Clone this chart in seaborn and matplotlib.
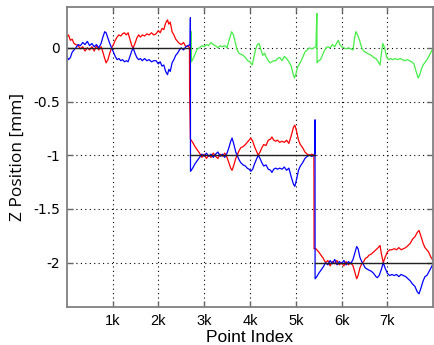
import matplotlib
matplotlib.use("Agg")
import matplotlib.pyplot as plt
import seaborn as sns

# step reference (target Z per section)
ref_start = [0, 2700, 5420]
ref_end = [2700, 5420, 8000]
ref_level = [0, -1, -2]

# red trace
red_idx = [0, 40, 80, 120, 160, 200, 250, 300, 350, 400, 450, 500, 550, 600, 650, 700, 750, 790, 830, 860,
           900, 940, 980, 1020, 1060, 1100, 1140, 1180, 1220, 1260, 1300, 1340, 1380, 1420, 1450, 1490, 1530,
           1570, 1610, 1650, 1700, 1750, 1800, 1850, 1900, 1950, 2000, 2040, 2080, 2120, 2160, 2200, 2230,
           2260, 2300, 2340, 2380, 2420, 2460, 2500, 2550, 2600, 2650, 2680, 2682, 2700,
           2750, 2800, 2850, 2900, 2950, 3000, 3050, 3100, 3150, 3200, 3250, 3300, 3350, 3400, 3450, 3500,
           3540, 3580, 3610, 3650, 3690, 3720, 3760, 3800, 3850, 3900, 3940, 3980, 4020, 4060, 4100, 4140,
           4180, 4220, 4260, 4300, 4350, 4400, 4450, 4480, 4520, 4560, 4600, 4650, 4700, 4750, 4800, 4850,
           4900, 4950, 4980, 5020, 5060, 5100, 5150, 5200, 5250, 5300, 5350, 5395, 5398, 5400, 5440,
           5500, 5550, 5600, 5650, 5700, 5750, 5800, 5850, 5900, 5950, 6000, 6050, 6100, 6150, 6200, 6250,
           6290, 6330, 6360, 6400, 6440, 6480, 6520, 6560, 6600, 6650, 6700, 6750, 6800, 6840, 6870, 6910,
           6950, 7000, 7050, 7100, 7150, 7200, 7250, 7300, 7350, 7400, 7450, 7500, 7550, 7600, 7650, 7690,
           7730, 7780, 7820, 7860, 7900, 7950, 8000]
red_z = [0.10, 0.12, 0.07, 0.08, 0.04, 0.03, 0.02, -0.01, 0.01, -0.03, 0.00, -0.02, 0.01, -0.03, 0.02, -0.02,
         0.01, -0.04, -0.10, -0.14, -0.11, -0.05, 0.00, 0.03, 0.07, 0.10, 0.12, 0.11, 0.13, 0.14, 0.12, 0.14,
         0.08, 0.02, 0.00, 0.04, 0.09, 0.12, 0.10, 0.12, 0.11, 0.13, 0.12, 0.14, 0.12, 0.13, 0.16, 0.14, 0.18,
         0.17, 0.23, 0.26, 0.22, 0.24, 0.15, 0.12, 0.08, 0.06, 0.04, 0.03, 0.05, 0.01, 0.02, 0.00, -0.38, -0.85,
         -0.88, -0.92, -0.95, -0.98, -1.02, -0.99, -1.03, -1.00, -1.02, -0.98, -1.01, -1.03, -0.99, -1.01,
         -0.98, -1.02, -1.07, -1.12, -1.14, -1.09, -1.03, -1.00, -0.96, -0.93, -0.92, -0.90, -0.88, -0.86,
         -0.84, -0.87, -0.92, -0.96, -1.00, -0.97, -0.93, -0.90, -0.91, -0.86, -0.85, -0.83, -0.86, -0.87,
         -0.86, -0.88, -0.87, -0.88, -0.86, -0.89, -0.82, -0.74, -0.72, -0.78, -0.86, -0.90, -0.93, -0.97,
         -0.99, -1.00, -0.99, -1.00, -1.25, -1.87, -1.87,
         -1.90, -1.93, -1.96, -2.00, -1.98, -2.03, -1.99, -2.01, -1.98, -2.02, -2.00, -2.03, -1.99, -2.02,
         -2.00, -2.03, -2.09, -2.15, -2.12, -2.05, -2.01, -1.99, -1.96, -1.95, -1.93, -1.92, -1.90, -1.88,
         -1.86, -1.84, -1.92, -2.00, -1.95, -1.90, -1.88, -1.88, -1.87, -1.88, -1.86, -1.88, -1.87, -1.86,
         -1.84, -1.82, -1.78, -1.76, -1.72, -1.70, -1.75, -1.82, -1.86, -1.88, -1.90, -1.95, -1.98]

# blue trace
blue_idx = [0, 40, 80, 120, 160, 200, 250, 300, 350, 400, 450, 500, 550, 600, 650, 700, 750, 790, 830, 860,
            900, 940, 980, 1020, 1060, 1100, 1140, 1180, 1220, 1260, 1300, 1340, 1380, 1420, 1450, 1490, 1530,
            1570, 1610, 1650, 1700, 1750, 1800, 1850, 1900, 1950, 2000, 2040, 2080, 2120, 2160, 2200, 2230,
            2260, 2300, 2340, 2380, 2420, 2460, 2500, 2550, 2600, 2650, 2695, 2700, 2702,
            2750, 2800, 2850, 2900, 2950, 3000, 3050, 3100, 3150, 3200, 3250, 3300, 3350, 3400, 3450, 3500,
            3540, 3580, 3610, 3650, 3690, 3720, 3760, 3800, 3850, 3900, 3940, 3980, 4020, 4060, 4100, 4140,
            4180, 4220, 4260, 4300, 4350, 4400, 4450, 4480, 4520, 4560, 4600, 4650, 4700, 4750, 4800, 4850,
            4900, 4950, 4980, 5020, 5060, 5100, 5150, 5200, 5250, 5300, 5350, 5400, 5418, 5420, 5422,
            5460, 5500, 5550, 5600, 5650, 5700, 5750, 5800, 5850, 5900, 5950, 6000, 6050, 6100, 6150, 6200, 6250,
            6290, 6330, 6360, 6400, 6440, 6480, 6520, 6560, 6600, 6650, 6700, 6750, 6780, 6820, 6870, 6910,
            6950, 7000, 7050, 7100, 7150, 7200, 7250, 7300, 7350, 7400, 7450, 7500, 7550, 7600, 7650, 7690,
            7730, 7780, 7820, 7860, 7900, 7950, 8000]
blue_z = [-0.08, -0.11, -0.09, -0.04, -0.02, 0.00, 0.03, 0.02, 0.05, 0.03, 0.06, 0.02, 0.04, 0.01, 0.03, 0.00,
          0.04, 0.10, 0.15, 0.14, 0.09, 0.04, 0.00, -0.04, -0.08, -0.11, -0.10, -0.12, -0.11, -0.13, -0.12,
          -0.13, -0.08, -0.03, 0.00, -0.05, -0.09, -0.11, -0.10, -0.12, -0.10, -0.12, -0.11, -0.13, -0.12,
          -0.12, -0.15, -0.13, -0.17, -0.16, -0.22, -0.25, -0.20, -0.22, -0.14, -0.11, -0.07, -0.05, -0.02,
          0.00, -0.02, 0.01, 0.02, 0.03, 0.28, -1.15,
          -1.12, -1.08, -1.05, -1.02, -0.99, -1.01, -0.98, -1.01, -0.99, -1.02, -0.99, -0.97, -1.01, -0.99,
          -1.02, -0.98, -0.93, -0.87, -0.84, -0.90, -0.97, -1.00, -1.04, -1.07, -1.09, -1.10, -1.12, -1.13,
          -1.15, -1.13, -1.08, -1.04, -1.00, -1.03, -1.07, -1.10, -1.09, -1.13, -1.14, -1.16, -1.13, -1.12,
          -1.13, -1.12, -1.13, -1.11, -1.14, -1.12, -1.20, -1.27, -1.29, -1.22, -1.14, -1.10, -1.07, -1.03,
          -1.01, -1.00, -1.01, -1.00, -0.98, -0.67, -2.15,
          -2.13, -2.10, -2.07, -2.04, -2.00, -2.02, -1.98, -2.01, -1.97, -2.02, -1.99, -2.01, -1.98, -2.02,
          -1.99, -2.01, -1.97, -1.91, -1.85, -1.87, -1.95, -1.99, -2.02, -2.05, -2.06, -2.07, -2.08, -2.10,
          -2.13, -2.14, -2.12, -2.06, -2.00, -2.05, -2.10, -2.12, -2.11, -2.12, -2.11, -2.13, -2.11, -2.12,
          -2.13, -2.15, -2.17, -2.20, -2.22, -2.27, -2.29, -2.24, -2.17, -2.13, -2.12, -2.09, -2.05, -2.01]

# green trace
green_idx = [2720, 2722, 2760, 2800, 2850, 2900, 2950, 3000, 3050, 3100, 3150, 3200, 3250, 3300, 3350, 3400,
             3450, 3500, 3550, 3600, 3640, 3680, 3720, 3760, 3800, 3850, 3900, 3950, 4000, 4050, 4080, 4120,
             4160, 4200, 4240, 4280, 4320, 4360, 4400, 4440, 4480, 4520, 4560, 4600, 4650, 4700, 4750, 4800,
             4850, 4900, 4940, 4970, 5000, 5040, 5080, 5120, 5160, 5200, 5250, 5300, 5350, 5400, 5440, 5460,
             5465, 5500, 5540, 5580, 5620, 5660, 5700, 5750, 5800, 5850, 5900, 5930, 5960, 6000, 6050, 6100,
             6150, 6200, 6250, 6280, 6310, 6350, 6400, 6440, 6480, 6520, 6560, 6600, 6650, 6700, 6750, 6800,
             6840, 6870, 6900, 6940, 6980, 7020, 7070, 7120, 7170, 7220, 7280, 7330, 7380, 7430, 7480, 7530,
             7580, 7620, 7670, 7700, 7740, 7780, 7830, 7880, 7940, 8000]
green_z = [0.15, -0.13, -0.10, -0.06, -0.01, 0.00, 0.02, 0.01, 0.03, 0.02, 0.05, 0.03, 0.02, 0.00, 0.02, 0.01,
           0.02, 0.00, 0.08, 0.15, 0.12, 0.05, -0.02, -0.05, -0.06, -0.07, -0.09, -0.12, -0.13, -0.16, -0.10,
           -0.02, 0.03, 0.04, -0.02, -0.07, -0.05, -0.09, -0.12, -0.14, -0.13, -0.12, -0.12, -0.10, -0.09,
           -0.12, -0.08, -0.10, -0.13, -0.17, -0.24, -0.28, -0.25, -0.18, -0.15, -0.12, -0.08, -0.04, -0.02,
           0.00, -0.01, 0.00, 0.01, 0.32, -0.14, -0.12, -0.11, -0.07, -0.03, 0.00, 0.01, 0.00, 0.03, 0.01,
           0.05, 0.07, 0.03, 0.01, 0.00, -0.01, 0.00, -0.01, -0.02, 0.08, 0.15, 0.12, 0.06, 0.00, -0.03, -0.04,
           -0.05, -0.06, -0.07, -0.09, -0.10, -0.13, -0.16, -0.05, 0.04, 0.00, -0.08, -0.11, -0.10, -0.11,
           -0.10, -0.11, -0.10, -0.11, -0.12, -0.11, -0.12, -0.13, -0.15, -0.21, -0.28, -0.26, -0.20, -0.16,
           -0.13, -0.10, -0.05, 0.00]

xticks = [1000, 2000, 3000, 4000, 5000, 6000, 7000]
xtick_labels = ["1k", "2k", "3k", "4k", "5k", "6k", "7k"]
yticks = [0, -0.5, -1, -1.5, -2]
ytick_labels = ["0", "-0.5", "-1", "-1.5", "-2"]

fig = plt.figure(figsize=(4.34, 3.45), dpi=100)
ax = fig.add_axes([66.7 / 434, 38.3 / 345, 366.5 / 434, 299.7 / 345])

sns.lineplot(x=green_idx, y=green_z, estimator=None, sort=False, color="#44ee44", lw=0.9, ax=ax)
sns.lineplot(x=red_idx, y=red_z, estimator=None, sort=False, color="#ff0000", lw=0.9, ax=ax)
sns.lineplot(x=blue_idx, y=blue_z, estimator=None, sort=False, color="#0000ff", lw=0.9, ax=ax)
for x0, x1, lvl in zip(ref_start, ref_end, ref_level):
    sns.lineplot(x=[x0, x1], y=[lvl, lvl], estimator=None, sort=False, color="#222222", lw=1.0, ax=ax)

ax.set_xlim(0, 8000)
ax.set_ylim(-2.41, 0.38)
ax.set_xticks(xticks)
ax.set_xticklabels(xtick_labels, fontfamily="Liberation Sans", fontsize=10.5)
ax.set_yticks(yticks)
ax.set_yticklabels(ytick_labels, fontfamily="DejaVu Sans", fontsize=10)
# matlab-style box: ticks on all four sides, pointing in
ax.tick_params(direction="in", length=4, width=1, color="#666666", pad=5, top=True, right=True)

ax.grid(True, color="black", linestyle=(0, (1, 3)), linewidth=0.8)
ax.set_axisbelow(True)
for sp in ax.spines.values():
    sp.set_color("#808080")
    sp.set_linewidth(1.3)

ax.set_xlabel("Point Index", fontfamily="Liberation Sans", fontsize=12.5, labelpad=2)
ax.set_ylabel("Z Position [mm]", fontfamily="Open Sans", fontsize=12.5, labelpad=5)

fig.savefig("out.png", dpi=100)
